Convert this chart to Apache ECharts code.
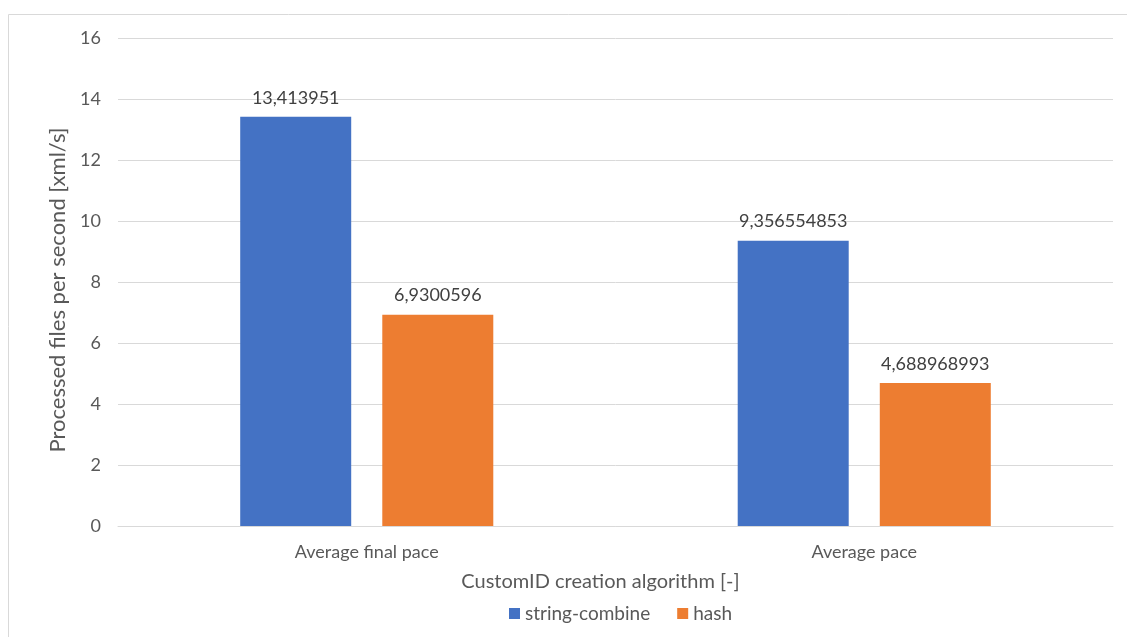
<!DOCTYPE html>
<html><head><meta charset="utf-8">
<script src="https://cdn.jsdelivr.net/npm/echarts@6/dist/echarts.min.js"></script>
<style>html,body{margin:0;padding:0;background:#fff}#c{width:1127px;height:637px}</style>
</head><body><div id="c"></div>
<script>
const categories = ['Average final pace', 'Average pace'];
const stringCombine = [13.413951, 9.356554853];
const hash = [6.9300596, 4.688968993];
const yTicks = [0, 2, 4, 6, 8, 10, 12, 14, 16];
const FONT = 'Lato, "Open Sans", sans-serif';
const fmt = p => String(p.value).replace('.', ',');
const chart = echarts.init(document.getElementById('c'));
chart.setOption({
  animation: false,
  textStyle: { fontFamily: FONT },
  graphic: [{ type: 'rect', shape: { x: 8.5, y: 14.5, width: 1130, height: 640 }, style: { fill: 'none', stroke: '#d9d9d9', lineWidth: 1 } }],
  grid: { left: 118, right: 14, top: 38, bottom: 111 },
  legend: {
    bottom: 9, left: 504, itemWidth: 11, itemHeight: 11, itemGap: 27, icon: 'rect',
    textStyle: { fontSize: 19, color: '#595959', fontFamily: FONT },
    data: ['string-combine', 'hash']
  },
  xAxis: {
    type: 'category', data: categories,
    axisLine: { lineStyle: { color: '#d9d9d9' } }, axisTick: { show: false },
    axisLabel: { fontSize: 18, color: '#595959', margin: 17, fontFamily: FONT },
    name: 'CustomID creation algorithm [-]', nameLocation: 'middle', nameGap: 46,
    nameTextStyle: { fontSize: 20, color: '#595959', fontFamily: FONT, padding: [0, 30, 0, 0] }
  },
  yAxis: {
    type: 'value', min: yTicks[0], max: yTicks[yTicks.length - 1], interval: 2,
    axisLine: { show: false }, axisTick: { show: false },
    splitLine: { lineStyle: { color: '#d9d9d9' } },
    axisLabel: { fontSize: 18, color: '#595959', margin: 17, fontFamily: FONT },
    name: 'Processed files per second [xml/s]', nameLocation: 'middle', nameGap: 47,
    nameTextStyle: { fontSize: 22, color: '#595959', fontFamily: FONT, padding: [0, 16, 0, 0] }
  },
  series: [
    { name: 'string-combine', type: 'bar', data: stringCombine, barWidth: 111, barGap: '28%',
      itemStyle: { color: '#4472c4' },
      label: { show: true, position: 'top', distance: 10, fontSize: 18, color: '#404040', formatter: fmt, fontFamily: FONT } },
    { name: 'hash', type: 'bar', data: hash, barWidth: 111,
      itemStyle: { color: '#ed7d31' },
      label: { show: true, position: 'top', distance: 10, fontSize: 18, color: '#404040', formatter: fmt, fontFamily: FONT } }
  ]
});
</script></body></html>
